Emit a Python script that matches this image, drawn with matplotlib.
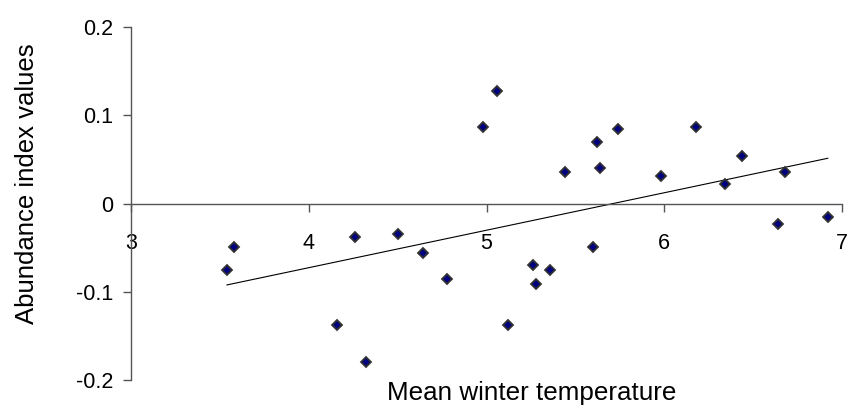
import numpy as np
import matplotlib.pyplot as plt

# 원본 차트에서 읽은 값 (겨울 평균기온 vs 풍부도 지수)
temperature = [3.54, 3.58, 4.16, 4.26, 4.32, 4.50, 4.64, 4.78, 4.98, 5.06,
               5.12, 5.26, 5.28, 5.36, 5.44, 5.60, 5.62, 5.64, 5.74, 5.98,
               6.18, 6.34, 6.44, 6.64, 6.68, 6.92]
abundance = [-0.075, -0.049, -0.138, -0.038, -0.180, -0.034, -0.056, -0.086, 0.087, 0.128,
             -0.138, -0.070, -0.091, -0.075, 0.036, -0.049, 0.070, 0.040, 0.085, 0.031,
             0.087, 0.022, 0.054, -0.023, 0.036, -0.015]

x_ticks = [3, 4, 5, 6, 7]
y_ticks = [-0.2, -0.1, 0, 0.1, 0.2]
y_tick_labels = ["-0.2", "-0.1", "0", "0.1", "0.2"]

plt.rcParams['font.family'] = ['Liberation Sans', 'DejaVu Sans']

fig = plt.figure(figsize=(8.57, 4.17), dpi=100)
ax = fig.add_axes([131 / 857, 1 - 380 / 417, 711 / 857, 352.7 / 417])

axis_color = '#555555'

# 점 그리기
ax.plot(temperature, abundance, linestyle='none', marker='D', markersize=4.8,
        markerfacecolor='#000080', markeredgecolor='#333333', markeredgewidth=1.3,
        zorder=3)

# 선형 추세선 (최소 x ~ 최대 x)
slope, intercept = np.polyfit(temperature, abundance, 1)
xs = np.array([min(temperature), max(temperature)])
ax.plot(xs, slope * xs + intercept, color='black', linewidth=0.8, zorder=2)

ax.set_xlim(3, 7)
ax.set_ylim(-0.2, 0.2)
ax.set_xticks(x_ticks)
ax.set_yticks(y_ticks)
ax.set_yticklabels(y_tick_labels)

# x축은 y=0 위치에서 교차
ax.spines['bottom'].set_position(('data', 0))
ax.spines['top'].set_visible(False)
ax.spines['right'].set_visible(False)
for s in ['left', 'bottom']:
    ax.spines[s].set_color(axis_color)
    ax.spines[s].set_linewidth(1.0)

ax.tick_params(axis='both', colors=axis_color, labelcolor='black',
               labelsize=15.5, length=5.8, width=1.0, direction='out')
ax.tick_params(axis='x', pad=15)
ax.tick_params(axis='y', pad=7)

ax.set_xlabel('Mean winter temperature', fontsize=18.7)
ax.xaxis.set_label_coords(0.564, -0.003)
ax.text(-0.146, 0.556, 'Abundance index values', fontsize=18.5, rotation=90,
        ha='center', va='center', transform=ax.transAxes)

fig.savefig('out.png', dpi=100)
